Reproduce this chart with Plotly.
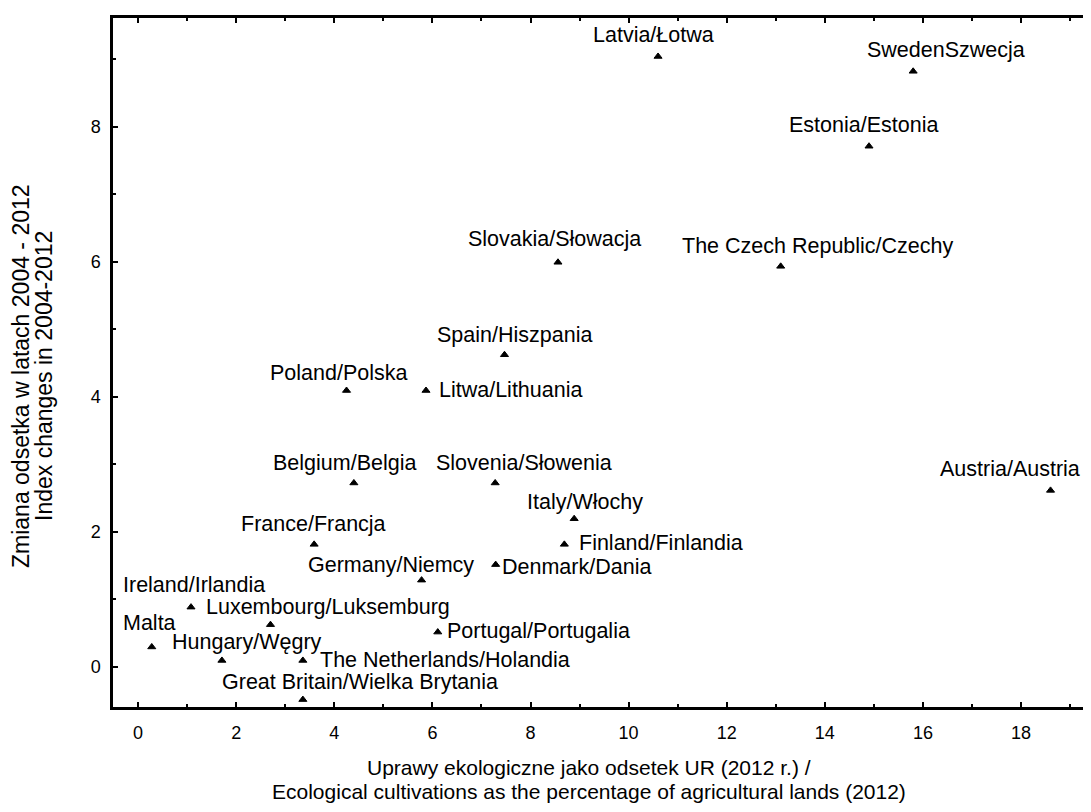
import plotly.graph_objects as go

# ---- data ----
countries = [
    "Latvia/Łotwa", "SwedenSzwecja", "Estonia/Estonia", "Slovakia/Słowacja",
    "The Czech Republic/Czechy", "Spain/Hiszpania", "Poland/Polska", "Litwa/Lithuania",
    "Belgium/Belgia", "Slovenia/Słowenia", "Austria/Austria", "Italy/Włochy",
    "France/Francja", "Finland/Finlandia", "Denmark/Dania", "Germany/Niemcy",
    "Ireland/Irlandia", "Luxembourg/Luksemburg", "Portugal/Portugalia", "Malta",
    "Hungary/Węgry", "The Netherlands/Holandia", "Great Britain/Wielka Brytania",
]
eco_share_2012 = [10.6, 15.8, 14.9, 8.56, 13.1, 7.47, 4.25, 5.87, 4.4, 7.28, 18.6, 8.89,
                  3.59, 8.69, 7.29, 5.78, 1.08, 2.7, 6.11, 0.28, 1.71, 3.36, 3.36]
index_change = [9.04, 8.82, 7.71, 5.99, 5.93, 4.62, 4.09, 4.09, 2.72, 2.72, 2.61, 2.19,
                1.81, 1.81, 1.51, 1.28, 0.88, 0.62, 0.51, 0.29, 0.09, 0.09, -0.49]
x_ticks = [0, 2, 4, 6, 8, 10, 12, 14, 16, 18]
y_ticks = [0, 2, 4, 6, 8]
x_title = ["Uprawy ekologiczne jako odsetek UR (2012 r.) /",
           "Ecological cultivations as the percentage of agricultural lands (2012)"]
y_title = ["Zmiana odsetka w latach 2004 - 2012", "Index changes in 2004-2012"]

# ---- label placement (pixel offsets from marker: left edge, vertical middle) ----
label_dx = [-65, -46, -80, -90, -99, -67, -77, 13, -81, -59, -111, -47,
            -73, 15, 6, -114, -68, -64, 9, -29, -50, 17, -81]
label_dy = [21, 21, 21, 23, 20, 20, 18, 1, 20, 20, 21, 17,
            20, 1, -2, 15, 22, 18, 1, 24, 18, 0, 18]

FONT = "Liberation Sans, Arial, sans-serif"

# page has an 8px body margin, so the figure is drawn 8px right/down
W, H = 1083, 804
PL, PT, PW, PH = 105, 10, 978, 689

fig = go.Figure()
fig.add_trace(go.Scatter(
    x=eco_share_2012, y=index_change, mode="markers",
    marker=dict(symbol="triangle-up", size=7, color="black",
                line=dict(color="black", width=1)),
    hoverinfo="skip", showlegend=False,
))

annotations = []
for name, xv, yv, dx, dy in zip(countries, eco_share_2012, index_change, label_dx, label_dy):
    annotations.append(dict(
        x=xv, y=yv, xref="x", yref="y", text=name, showarrow=False,
        xanchor="left", yanchor="middle", xshift=dx, yshift=dy,
        borderpad=0, borderwidth=0,
        font=dict(family=FONT, size=21.5, color="black"),
    ))

def px_to_paper(px, py):
    # px, py given in page pixels
    return (px - 8 - PL) / PW, (PT + PH - (py - 8)) / PH

for txt, py in zip(x_title, [767, 791]):
    xp, yp = px_to_paper(589, py)
    annotations.append(dict(x=xp, y=yp, xref="paper", yref="paper", text=txt,
                            showarrow=False, xanchor="center", yanchor="middle",
                            font=dict(family=FONT, size=21, color="black")))
for txt, px in zip(y_title, [21, 44]):
    xp, yp = px_to_paper(px, 376)
    annotations.append(dict(x=xp, y=yp, xref="paper", yref="paper", text=txt,
                            showarrow=False, xanchor="center", yanchor="middle",
                            textangle=-90,
                            font=dict(family=FONT, size=23, color="black")))

fig.update_layout(
    width=W, height=H,
    margin=dict(l=PL, r=W - PL - PW, t=PT, b=H - PT - PH, autoexpand=False),
    plot_bgcolor="white", paper_bgcolor="white",
    annotations=annotations,
    font=dict(family=FONT, color="black"),
)
fig.update_xaxes(
    range=[-0.51, 19.425], tickvals=x_ticks, ticks="inside", ticklen=5, tickwidth=2,
    tickcolor="black", showline=True, linecolor="black", linewidth=2.5, mirror="ticks",
    showgrid=False, zeroline=False, tickfont=dict(family=FONT, size=18, color="black"),
    ticklabelstandoff=8,
    minor=dict(dtick=1, tick0=0, ticks="inside", ticklen=3, tickwidth=2, tickcolor="black",
               showgrid=False),
)
fig.update_yaxes(
    range=[-0.6, 9.61], tickvals=y_ticks, ticks="inside", ticklen=5, tickwidth=2,
    tickcolor="black", showline=True, linecolor="black", linewidth=2.5, mirror=False,
    showgrid=False, zeroline=False, tickfont=dict(family=FONT, size=18, color="black"),
    ticklabelstandoff=6,
    minor=dict(dtick=1, tick0=0, ticks="inside", ticklen=3, tickwidth=2, tickcolor="black",
               showgrid=False),
)

fig.write_html("out.html")
